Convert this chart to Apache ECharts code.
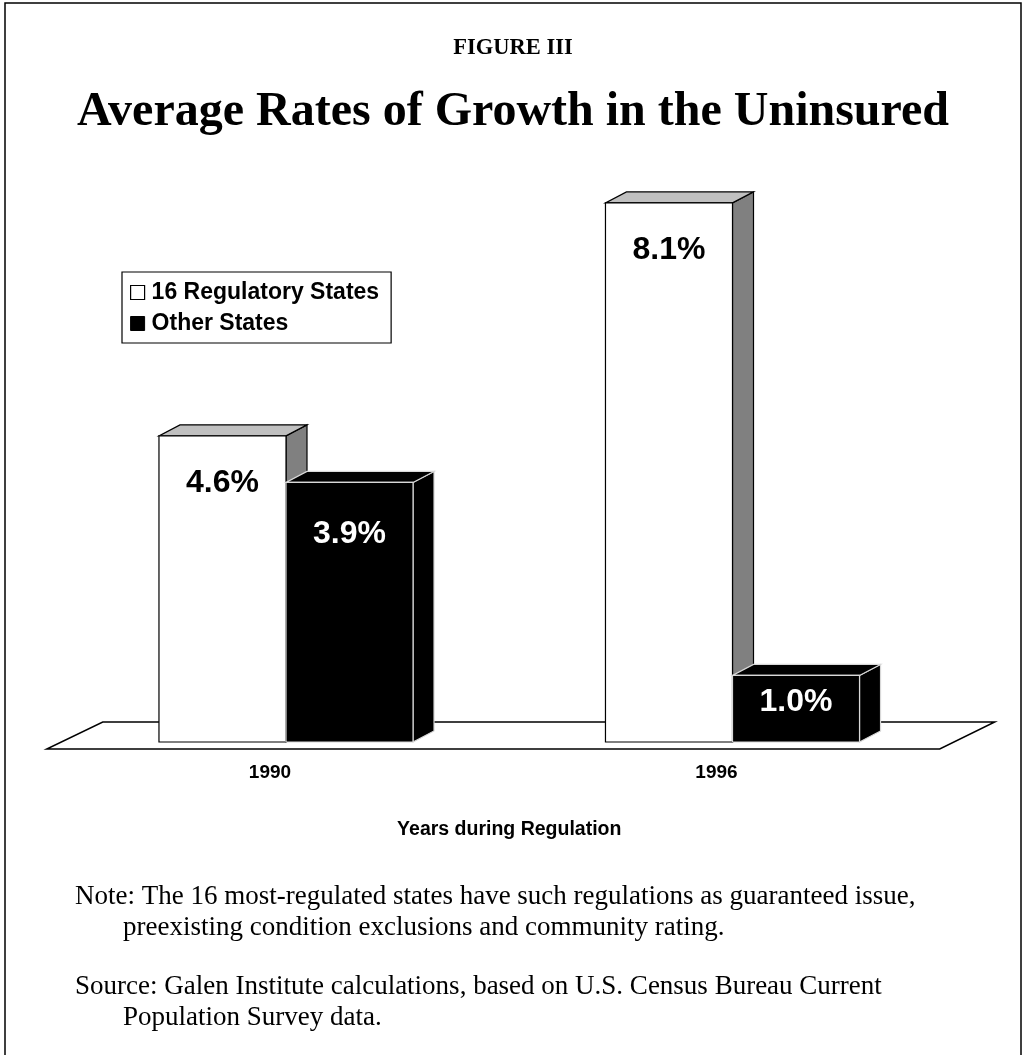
<!DOCTYPE html>
<html>
<head>
<meta charset="utf-8">
<script src="https://cdn.jsdelivr.net/npm/echarts@6/dist/echarts.min.js"></script>
<style>
html,body{margin:0;padding:0;background:#fff;}
#chart{width:1026px;height:1055px;}
</style>
</head>
<body>
<div id="chart"></div>
<script>
const categories = ['1990', '1996'];
const regulatoryStates = [4.6, 8.1];
const otherStates = [3.9, 1.0];
const seriesNames = ['16 Regulatory States', 'Other States'];
const valueLabels = [['4.6%', '8.1%'], ['3.9%', '1.0%']];
const figureLabel = 'FIGURE III';
const mainTitle = 'Average Rates of Growth in the Uninsured';
const axisTitle = 'Years during Regulation';
const noteLines = [
  'Note: The 16 most-regulated states have such regulations as guaranteed issue,',
  'preexisting condition exclusions and community rating.'
];
const sourceLines = [
  'Source: Galen Institute calculations, based on U.S. Census Bureau Current',
  'Population Survey data.'
];

const SANS = '"Liberation Sans", Arial, Helvetica, sans-serif';
const SERIF = '"Liberation Serif", "Times New Roman", serif';
const DX = 21, DY = -11;
const BAR_FRAC = 0.2845;

const styles = [
  {front: '#ffffff', top: '#c0c0c0', side: '#808080', stroke: '#000000', text: '#000000', labelOff: 47},
  {front: '#000000', top: '#000000', side: '#000000', stroke: '#d8d8d8', text: '#ffffff', labelOff: 52}
];

function makeBarRender(si) {
  return function (params, api) {
    const st = styles[si];
    const cat = api.value(0);
    const val = api.value(1);
    const top = api.coord([cat, val]);
    const base = api.coord([cat, 0]);
    const band = api.size([1, 0])[0];
    const bw = band * BAR_FRAC;
    const x0 = si === 0 ? top[0] - bw : top[0];
    const x1 = x0 + bw;
    const yT = top[1], yB = base[1];
    const h = yB - yT;
    const lw = 1.2;
    const labelY = yT + Math.min(st.labelOff, h * 0.4);
    return {
      type: 'group',
      children: [
        {type: 'polygon', shape: {points: [[x1, yT], [x1 + DX, yT + DY], [x1 + DX, yB + DY], [x1, yB]]},
          style: {fill: st.side, stroke: st.stroke, lineWidth: lw}},
        {type: 'polygon', shape: {points: [[x0, yT], [x1, yT], [x1 + DX, yT + DY], [x0 + DX, yT + DY]]},
          style: {fill: st.top, stroke: st.stroke, lineWidth: lw}},
        {type: 'rect', shape: {x: x0, y: yT, width: bw, height: h},
          style: {fill: st.front, stroke: st.stroke, lineWidth: lw}},
        {type: 'text', x: (x0 + x1) / 2, y: labelY,
          style: {text: valueLabels[si][params.dataIndex], fill: st.text,
            font: 'bold 32px ' + SANS, align: 'center', verticalAlign: 'middle'}}
      ]
    };
  };
}

function floorRender(params, api) {
  const cs = params.coordSys;
  const yB = cs.y + cs.height;
  const l = cs.x, r = cs.x + cs.width;
  return {
    type: 'polygon',
    shape: {points: [[l - 16, yB + 7], [r - 16, yB + 7], [r + 39, yB - 20], [l + 40, yB - 20]]},
    style: {fill: '#ffffff', stroke: '#000000', lineWidth: 1.5}
  };
}

const chart = echarts.init(document.getElementById('chart'), null, {renderer: 'canvas'});

const notes = [];
const noteYs = [897, 928, 987, 1018];
const noteXs = [75, 123, 75, 123];
noteLines.concat(sourceLines).forEach(function (t, i) {
  notes.push({type: 'text', x: noteXs[i], y: noteYs[i],
    style: {text: t, font: '27px ' + SERIF, fill: '#000', verticalAlign: 'middle'}});
});

chart.setOption({
  backgroundColor: '#ffffff',
  animation: false,
  title: [
    {text: figureLabel, left: 'center', top: 32,
      textStyle: {fontFamily: SERIF, fontWeight: 'bold', fontSize: 22.5, color: '#000'}},
    {text: mainTitle, left: 'center', top: 84,
      textStyle: {fontFamily: SERIF, fontWeight: 'bold', fontSize: 48, color: '#000'}}
  ],
  legend: {
    orient: 'vertical', left: 122, top: 272,
    borderColor: '#000', borderWidth: 1.2,
    padding: [9, 12, 8, 8], itemGap: 8,
    itemWidth: 14, itemHeight: 14,
    textStyle: {fontFamily: SANS, fontWeight: 'bold', fontSize: 23, color: '#000', padding: [0, 0, 0, 2]},
    data: [
      {name: seriesNames[0], icon: 'rect', itemStyle: {color: '#fff', borderColor: '#000', borderWidth: 1.2}},
      {name: seriesNames[1], icon: 'rect', itemStyle: {color: '#000', borderColor: '#000', borderWidth: 1}}
    ],
    selectedMode: false
  },
  grid: {left: 62.75, right: 70.25, top: 143, bottom: 313, containLabel: false},
  xAxis: {
    type: 'category', data: categories,
    axisLine: {show: false}, axisTick: {show: false}, splitLine: {show: false},
    axisLabel: {margin: 21, fontFamily: SANS, fontWeight: 'bold', fontSize: 19, color: '#000', padding: [0, 32, 0, 0]},
    name: axisTitle, nameLocation: 'middle', nameGap: 78,
    nameTextStyle: {fontFamily: SANS, fontWeight: 'bold', fontSize: 19.5, color: '#000'}
  },
  yAxis: {type: 'value', min: 0, max: 9, show: false},
  series: [
    {type: 'custom', name: 'floor', renderItem: floorRender, data: [[0, 0]], z: 1, silent: true},
    {type: 'custom', name: seriesNames[0], renderItem: makeBarRender(0), z: 2,
      itemStyle: {color: '#fff', borderColor: '#000'},
      data: categories.map(function (c, i) { return [i, regulatoryStates[i]]; })},
    {type: 'custom', name: seriesNames[1], renderItem: makeBarRender(1), z: 3,
      itemStyle: {color: '#000'},
      data: categories.map(function (c, i) { return [i, otherStates[i]]; })}
  ],
  graphic: [
    {type: 'rect', shape: {x: 5, y: 3, width: 1016, height: 1100},
      style: {fill: 'none', stroke: '#000', lineWidth: 1.5}, silent: true}
  ].concat(notes)
});
</script>
</body>
</html>
